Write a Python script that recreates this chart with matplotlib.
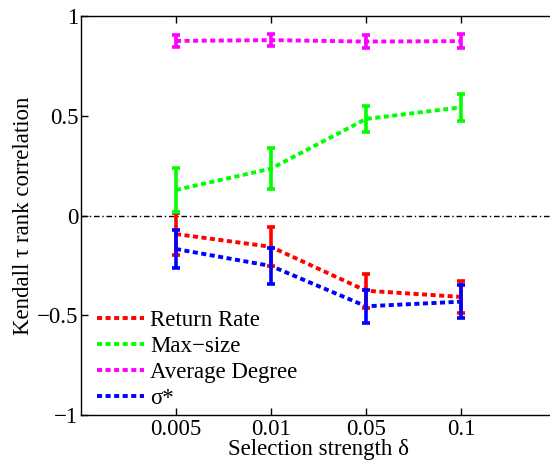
import numpy as np
import matplotlib.pyplot as plt

plt.rcParams['font.family'] = ['Liberation Serif', 'DejaVu Serif']

# Data
x_labels = ['0.005', '0.01', '0.05', '0.1']
return_rate = [-0.093, -0.157, -0.377, -0.408]
return_err = [0.105, 0.098, 0.085, 0.08]
max_size = [0.128, 0.235, 0.484, 0.542]
max_err = [0.11, 0.103, 0.067, 0.067]
avg_degree = [0.875, 0.879, 0.872, 0.874]
avg_err = [0.028, 0.03, 0.032, 0.034]
sigma = [-0.168, -0.253, -0.455, -0.432]
sigma_err = [0.096, 0.092, 0.082, 0.083]

x = np.arange(1, len(x_labels) + 1)

fig = plt.figure(figsize=(5.5, 4.63), dpi=100)
ax = fig.add_axes([81 / 550, 48 / 463, 475 / 550, 399 / 463])

ax.axhline(0, color='black', lw=1, linestyle=(0, (4, 2, 1, 2)), zorder=1)

series = [
    (return_rate, return_err, '#ff0000', 'Return Rate'),
    (max_size, max_err, '#00ff00', 'Max\u2212size'),
    (avg_degree, avg_err, '#ff00ff', 'Average Degree'),
    (sigma, sigma_err, '#0000ff', '\u03c3*'),
]
for vals, errs, c, lab in series:
    ax.plot(x, vals, color=c, lw=2.8, linestyle=(0, (1.3, 0.9)), label=lab, zorder=2)
    ax.errorbar(x, vals, yerr=errs, fmt='none', ecolor=c, elinewidth=2.6,
                capsize=3.2, capthick=2.6, zorder=3)

ax.set_xlim(0, 5)
ax.set_ylim(-1, 1)
ax.set_xticks(x)
ax.set_xticklabels(x_labels)
ax.set_yticks([-1, -0.5, 0, 0.5, 1])
ax.set_yticklabels(['\u22121', '\u22120.5', '0', '0.5', '1'])
ax.tick_params(direction='in', length=5, labelsize=16.5, top=True, right=False, width=1)
ax.tick_params(axis='x', pad=3)
ax.tick_params(axis='y', pad=2)
ax.spines['right'].set_visible(False)
for s in ax.spines.values():
    s.set_linewidth(1)

ax.set_xlabel('Selection strength \u03b4', fontsize=16.5, labelpad=-1)
ax.set_ylabel('Kendall \u03c4 rank correlation', fontsize=16.5, labelpad=2)

ax.legend(loc='lower left', bbox_to_anchor=(0.0, -0.025), frameon=False, fontsize=16.5,
          handlelength=2.05, handletextpad=0.26, labelspacing=0.21, borderaxespad=0.3)

fig.savefig('out.png', dpi=100)
